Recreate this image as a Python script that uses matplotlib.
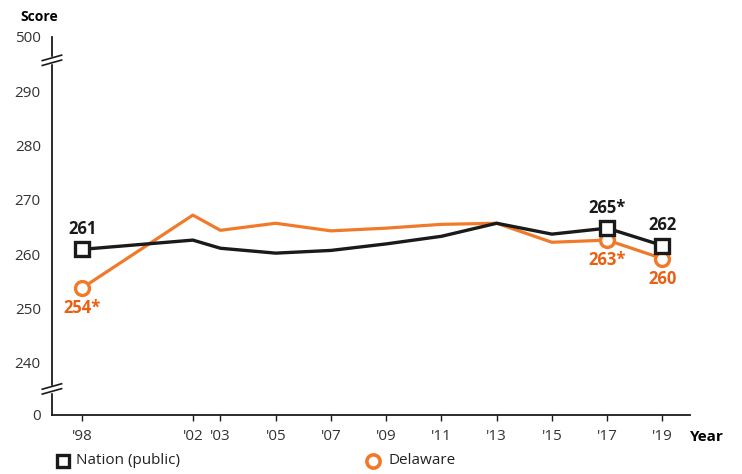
import numpy as np
import matplotlib
matplotlib.use("Agg")
import matplotlib.pyplot as plt
from matplotlib.lines import Line2D

plt.rcParams["font.family"] = ["Open Sans", "DejaVu Sans"]

# data
years = [1998, 2002, 2003, 2005, 2007, 2009, 2011, 2013, 2015, 2017, 2019]
year_labels = ["'98", "'02", "'03", "'05", "'07", "'09", "'11", "'13", "'15", "'17", "'19"]
nation = [260.9, 262.6, 261.1, 260.2, 260.7, 261.9, 263.3, 265.7, 263.7, 264.8, 261.6]
delaware = [253.8, 267.2, 264.4, 265.7, 264.3, 264.8, 265.5, 265.7, 262.2, 262.6, 259.2]

nation_labels = {1998: "261", 2017: "265*", 2019: "262"}
delaware_labels = {1998: "254*", 2017: "263*", 2019: "260"}

# broken axis: 0 and 500 are drawn just outside the 240-290 band
ytick_pos = [230.4, 240, 250, 260, 270, 280, 290, 300]
ytick_lab = ["0", "240", "250", "260", "270", "280", "290", "500"]

black = "#1a1a1a"
orange = "#f07a2a"
orange_txt = "#ea5f10"

fig = plt.figure(figsize=(7.42, 4.74), dpi=100)
ax = fig.add_axes([0.070, 0.1245, 0.860, 0.7975])

ax.plot(years, nation, color=black, lw=2.4, zorder=3)
ax.plot(years, delaware, color=orange, lw=2.3, zorder=2)

# markers only where values are labelled
for yr, lab in nation_labels.items():
    i = years.index(yr)
    ax.plot(yr, nation[i], marker="s", ms=9.5, mfc="white", mec=black, mew=2.4, zorder=5)
    ax.annotate(lab, (yr, nation[i]), xytext=(0, 8), textcoords="offset points",
                ha="center", va="bottom", fontsize=12, fontweight="bold", color=black)
for yr, lab in delaware_labels.items():
    i = years.index(yr)
    ax.plot(yr, delaware[i], marker="o", ms=10, mfc="white", mec=orange, mew=2.4, zorder=4)
    ax.annotate(lab, (yr, delaware[i]), xytext=(0, -8), textcoords="offset points",
                ha="center", va="top", fontsize=12, fontweight="bold", color=orange_txt)

ax.set_xlim(1996.9, 2020)
ax.set_ylim(230.4, 300)
ax.set_xticks(years)
ax.set_xticklabels(year_labels)
ax.set_yticks(ytick_pos)
ax.set_yticklabels(ytick_lab)
ax.tick_params(axis="x", length=4, width=1, color=black, labelsize=11, labelcolor="#333333", pad=6)
ax.tick_params(axis="y", length=0, labelsize=11, labelcolor="#333333", pad=8)

for s in ["top", "right"]:
    ax.spines[s].set_visible(False)
for s in ["left", "bottom"]:
    ax.spines[s].set_color(black)
    ax.spines[s].set_linewidth(1.3)

# axis break marks
for yb in [295.7, 235.2]:
    for dy in [-0.45, 0.45]:
        ax.plot([1996.55, 1997.25], [yb + dy - 0.5, yb + dy + 0.5], color=black,
                lw=1.2, clip_on=False, zorder=6)
    ax.plot([1996.9, 1996.9], [yb - 0.35, yb + 0.35], color="white", lw=2.5,
            clip_on=False, zorder=5)

fig.text(0.027, 0.965, "Score", fontsize=10, fontweight="bold", ha="left", va="center")
fig.text(0.953, 0.078, "Year", fontsize=11, fontweight="bold", ha="center", va="center")

# legend along the bottom
fig.add_artist(Line2D([0.085], [0.028], marker="s", ms=8.5, mfc="white", mec=black, mew=2.4,
                      transform=fig.transFigure))
fig.text(0.103, 0.028, "Nation (public)", fontsize=11, color="#222222", va="center")
fig.add_artist(Line2D([0.503], [0.028], marker="o", ms=9.5, mfc="white", mec=orange, mew=2.6,
                      transform=fig.transFigure))
fig.text(0.523, 0.028, "Delaware", fontsize=11, color="#222222", va="center")

fig.savefig("out.png", dpi=100)
